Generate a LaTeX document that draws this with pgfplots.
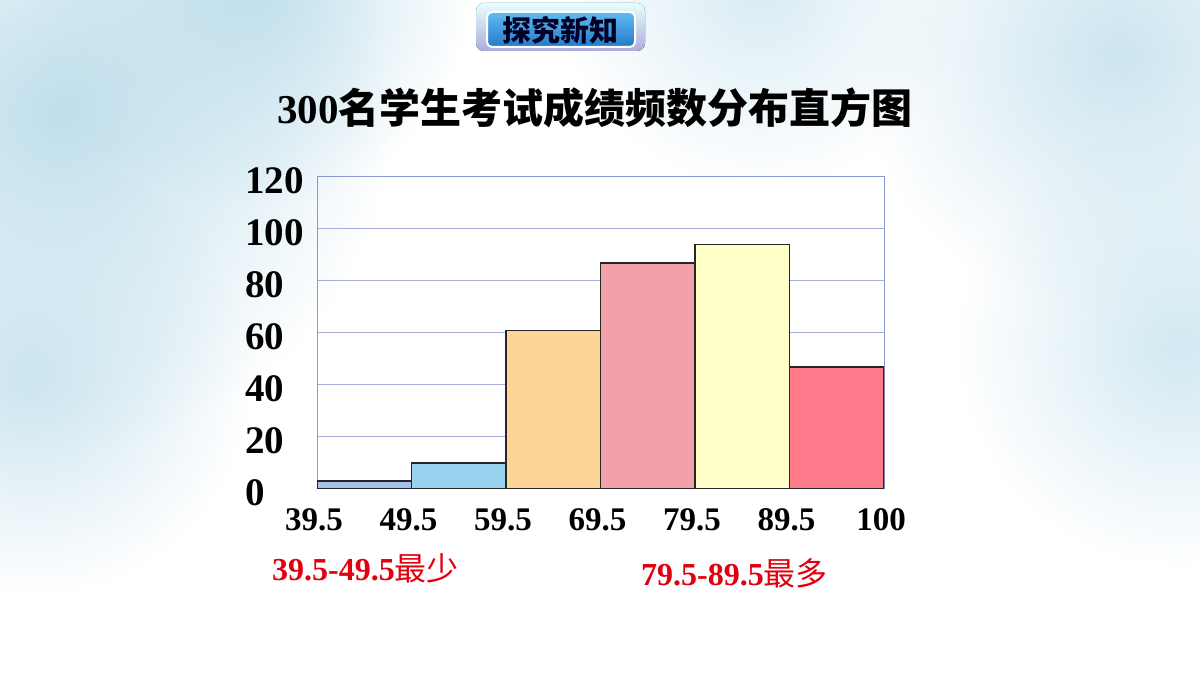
\documentclass[border=0pt]{standalone}
\usepackage{pgfplots}
\pgfplotsset{compat=1.18}
\usepackage{fontspec}
\setmainfont{Liberation Serif}
\newfontfamily\cjk{Noto Sans CJK SC}
\usetikzlibrary{fadings}
\tikzfading[name=softblob, inner color=transparent!0, outer color=transparent!100]
\definecolor{axisblue}{HTML}{8E98D2}
\definecolor{gridblue}{HTML}{A8AEDC}
\definecolor{barA}{HTML}{A6C0EC}
\definecolor{barB}{HTML}{98D2EE}
\definecolor{barC}{HTML}{FDD597}
\definecolor{barD}{HTML}{F2A0AA}
\definecolor{barE}{HTML}{FFFFC8}
\definecolor{barF}{HTML}{FF7B8C}
\definecolor{wash}{HTML}{BFDFEC}
\definecolor{redlab}{HTML}{E00010}
\definecolor{badgetop}{HTML}{5FBDF2}
\definecolor{badgebot}{HTML}{2578C8}
\begin{document}
\begin{tikzpicture}[x=1pt,y=1pt]
\useasboundingbox (0,0) rectangle (1200,675);
\fill[white] (0,0) rectangle (1200,675);
\begin{scope}
\clip (0,0) rectangle (1200,675);
\fill[wash, path fading=softblob] (60,560) circle (330);
\fill[wash, path fading=softblob] (250,690) circle (220);
\fill[wash!80, path fading=softblob] (30,300) circle (220);
\fill[wash!80, path fading=softblob] (1120,620) circle (260);
\fill[wash!70, path fading=softblob] (1180,330) circle (220);
\fill[wash!60, path fading=softblob] (760,690) circle (200);
\end{scope}
% badge
\fill[rounded corners=8pt, top color=white!90!cyan, bottom color=white!75!blue!70!gray] (476,624) rectangle (645,672);
\draw[white, line width=2pt, rounded corners=5pt, top color=badgetop, bottom color=badgebot] (487,628) rectangle (635,663);
\node[font=\cjk\bfseries\fontsize{29}{29}\selectfont, text=black!85!blue] at (560,645) {探究新知};
% title
\node[font=\fontsize{41}{41}\selectfont] at (595,567) {\bfseries 300{\cjk\bfseries 名学生考试成绩频数分布直方图}};
\begin{axis}[
  at={(317pt,186pt)}, anchor=south west,
  scale only axis, width=567pt, height=312pt,
  xmin=0, xmax=6, ymin=0, ymax=120,
  xtick={0,1,2,3,4,5,6},
  xticklabels={39.5,49.5,59.5,69.5,79.5,89.5,100},
  ytick={0,20,40,60,80,100,120},
  yticklabels={0,20,40,60,80,100,120},
  major tick length=0pt,
  ymajorgrids, major grid style={gridblue, line width=1pt},
  axis line style={axisblue, line width=1pt},
  xticklabel style={font=\bfseries\fontsize{33}{33}\selectfont, inner sep=0pt, anchor=north, yshift=-19pt, xshift=-3pt},
  yticklabel style={font=\bfseries\fontsize{39}{39}\selectfont, inner sep=0pt, anchor=west, xshift=-72pt, yshift=-4pt},
]
\addplot[ybar interval, fill=barA, draw=black!85, line width=1.5pt] coordinates {(0,3) (1,3)};
\addplot[ybar interval, fill=barB, draw=black!85, line width=1.5pt] coordinates {(1,10) (2,10)};
\addplot[ybar interval, fill=barC, draw=black!85, line width=1.5pt] coordinates {(2,61) (3,61)};
\addplot[ybar interval, fill=barD, draw=black!85, line width=1.5pt] coordinates {(3,87) (4,87)};
\addplot[ybar interval, fill=barE, draw=black!85, line width=1.5pt] coordinates {(4,94) (5,94)};
\addplot[ybar interval, fill=barF, draw=black!85, line width=1.5pt] coordinates {(5,47) (6,47)};
\end{axis}
\node[anchor=west, inner sep=0pt, text=redlab, font=\fontsize{32}{32}\selectfont] at (272,107) {\bfseries 39.5-49.5{\cjk\mdseries 最少}};
\node[anchor=west, inner sep=0pt, text=redlab, font=\fontsize{32}{32}\selectfont] at (641,102) {\bfseries 79.5-89.5{\cjk\mdseries 最多}};
\end{tikzpicture}
\end{document}
